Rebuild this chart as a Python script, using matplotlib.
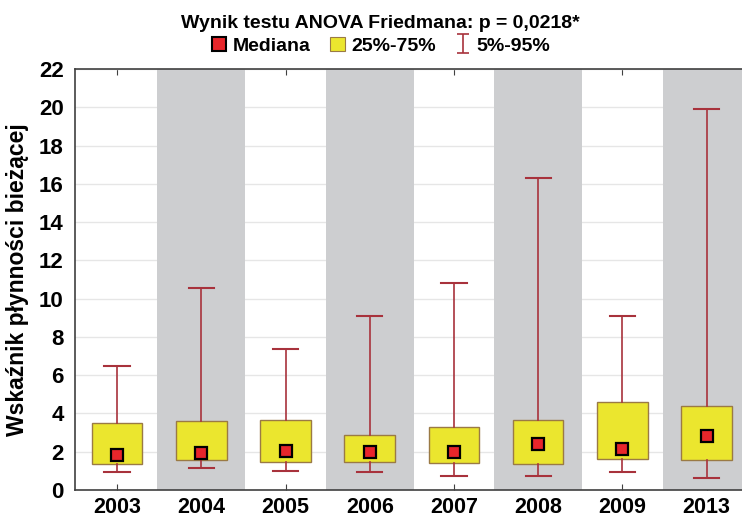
import numpy as np
import matplotlib.pyplot as plt
from matplotlib.patches import Patch
from matplotlib.lines import Line2D

plt.rcParams['font.family'] = ['Liberation Sans', 'DejaVu Sans']
plt.rcParams['font.weight'] = 'bold'

years = ['2003', '2004', '2005', '2006', '2007', '2008', '2009', '2013']
p05 = [0.93, 1.15, 1.00, 0.94, 0.73, 0.73, 0.96, 0.64]
q25 = [1.33, 1.55, 1.47, 1.45, 1.40, 1.36, 1.64, 1.55]
median = [1.82, 1.95, 2.02, 1.99, 2.00, 2.39, 2.16, 2.83]
q75 = [3.49, 3.59, 3.64, 2.88, 3.28, 3.63, 4.61, 4.41]
p95 = [6.46, 10.55, 7.37, 9.07, 10.80, 16.30, 9.10, 19.93]

box_color = '#ebe62e'
box_edge = '#9a7a45'
whisk_color = '#a8323c'
band_color = '#cdced0'

fig = plt.figure(figsize=(7.42, 5.19), dpi=100)
ax = fig.add_axes([0.101, 0.056, 0.899, 0.811])

x = np.arange(len(years))

# alternating grey bands
for i in x:
    if i % 2 == 1:
        ax.axvspan(i - 0.52, i + 0.52, color=band_color, zorder=1, lw=0)

stats = [dict(med=m, q1=a, q3=b, whislo=lo, whishi=hi, fliers=[])
         for m, a, b, lo, hi in zip(median, q25, q75, p05, p95)]
bp = ax.bxp(stats, positions=x, widths=0.6, patch_artist=True,
            showfliers=False, manage_ticks=False,
            boxprops=dict(facecolor=box_color, edgecolor=box_edge, lw=1.0),
            whiskerprops=dict(color=whisk_color, lw=1.2),
            capprops=dict(color=whisk_color, lw=1.5),
            medianprops=dict(visible=False), capwidths=0.3, zorder=3)

ax.plot(x, median, ls='none', marker='s', ms=8.5, mfc='#e8262b',
        mec='black', mew=1.6, zorder=4)

ax.set_xlim(-0.5, 7.42)
ax.set_ylim(0, 22)
ax.set_yticks(np.arange(0, 23, 2))
ax.set_xticks(x)
ax.set_xticklabels(years)
ax.yaxis.grid(True, color='#e6e6e6', lw=1, zorder=0)
ax.set_axisbelow(True)

ax.tick_params(axis='x', direction='in', length=4, labelsize=15.5, pad=5,
               top=True, color='#404040')
ax.tick_params(axis='y', length=0, labelsize=16, pad=8)
for s in ['top', 'left', 'bottom']:
    ax.spines[s].set_color('#404040')
    ax.spines[s].set_linewidth(1.2)
ax.spines['right'].set_visible(False)

ax.set_ylabel('Wskaźnik płynności bieżącej', fontsize=16.5, fontweight='bold',
              labelpad=7)

fig.text(0.513, 0.954, 'Wynik testu ANOVA Friedmana: p = 0,0218*',
         ha='center', va='center', fontsize=14, fontweight='bold')

eb = ax.errorbar([np.nan], [np.nan], yerr=[[1.0]], fmt='none',
                 ecolor=whisk_color, elinewidth=1.2, capsize=4.5, capthick=1.2)
handles = [
    Line2D([], [], ls='none', marker='s', ms=9.5, mfc='#e8262b', mec='black',
           mew=1.5),
    Patch(facecolor=box_color, edgecolor=box_edge, lw=0.8),
    eb,
]
fig.legend(handles, ['Mediana', '25%-75%', '5%-95%'], loc='center',
           bbox_to_anchor=(0.513, 0.912), ncol=3, frameon=False,
           fontsize=14, handlelength=0.8, handleheight=0.8,
           columnspacing=1.0, handletextpad=0.3)

fig.savefig('out.png', dpi=100)
